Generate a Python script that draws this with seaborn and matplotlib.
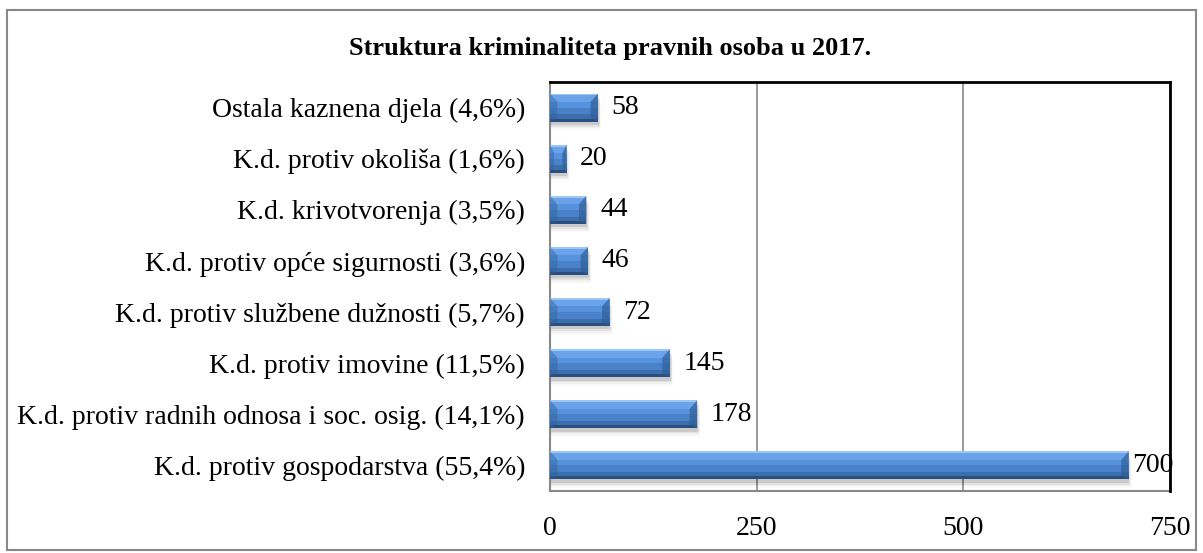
import matplotlib
matplotlib.use("Agg")
import matplotlib.pyplot as plt
import seaborn as sns
import pandas as pd
import numpy as np
from matplotlib.patches import Rectangle, Polygon

categories = [
    "Ostala kaznena djela (4,6%)",
    "K.d. protiv okoliša (1,6%)",
    "K.d. krivotvorenja (3,5%)",
    "K.d. protiv opće sigurnosti (3,6%)",
    "K.d. protiv službene dužnosti (5,7%)",
    "K.d. protiv imovine (11,5%)",
    "K.d. protiv radnih odnosa i soc. osig. (14,1%)",
    "K.d. protiv gospodarstva (55,4%)",
]
values = [58, 20, 44, 46, 72, 145, 178, 700]
xticks = [0, 250, 500, 750]
title = "Struktura kriminaliteta pravnih osoba u 2017."

sns.set_theme(style="white")
plt.rcParams["font.family"] = ["Liberation Serif", "DejaVu Serif"]
plt.rcParams["text.color"] = "black"
plt.rcParams["xtick.color"] = "black"
plt.rcParams["ytick.color"] = "black"

df = pd.DataFrame({"cat": categories, "val": values})

fig = plt.figure(figsize=(12.03, 5.53), dpi=100)
ax = fig.add_axes([550 / 1203, 1 - 491 / 553, 620 / 1203, (491 - 82) / 553])

sns.barplot(data=df, y="cat", x="val", orient="h", color="#4d88d2",
            saturation=1, width=0.55, ax=ax, zorder=3)

ax.set_xlim(0, 750)
ax.set_ylim(len(categories) - 0.5, -0.5)

# bevel / shading effect derived from each bar
bands = [(0.00, 0.07, "#9cc6f4"), (0.07, 0.30, "#6aa3ea"), (0.30, 0.50, "#5792dd"),
         (0.50, 0.74, "#4a82c9"), (0.74, 0.89, "#3c6dac"), (0.89, 1.00, "#2a4e80")]
for p in list(ax.patches):
    x0, y0 = p.get_x(), p.get_y()
    w, h = p.get_width(), p.get_height()
    p.set_edgecolor("none")
    # soft shadow below
    for k, a in enumerate([0.10, 0.06, 0.035, 0.02]):
        ax.add_patch(Rectangle((x0, y0 + h * (0.12 + 0.06 * k)), w + 1.0 * (k + 1), h,
                               facecolor="#000000", alpha=a, zorder=2, linewidth=0))
    for f0, f1, c in bands:
        ax.add_patch(Rectangle((x0, y0 + h * f0), w, h * (f1 - f0), facecolor=c,
                               zorder=4, linewidth=0))
    # bevelled end caps
    cap = min(w * 0.25, 750 * 0.012)
    ax.add_patch(Polygon([(x0 + w, y0), (x0 + w - cap, y0 + h * 0.3),
                          (x0 + w - cap, y0 + h * 0.86), (x0 + w, y0 + h)],
                         closed=True, facecolor="#2f5f99", alpha=0.7, zorder=5, linewidth=0))
    ax.add_patch(Polygon([(x0, y0), (x0 + cap, y0 + h * 0.3),
                          (x0 + cap, y0 + h * 0.86), (x0, y0 + h)],
                         closed=True, facecolor="#2f5f99", alpha=0.45, zorder=5, linewidth=0))
    gap = 750 * 0.022 if x0 + w < 650 else 750 * 0.006
    ax.text(x0 + w + gap, y0 + h / 2, f"{w:.0f}", va="center", ha="left",
            fontsize=20, color="black", zorder=6)

ax.set_xticks(xticks)
ax.set_xticklabels([str(t) for t in xticks], fontsize=20)
ax.set_yticks(range(len(categories)))
ax.set_yticklabels(categories, fontsize=20)
ax.set_yticks(np.arange(-0.5, len(categories), 1.0), minor=True)
ax.tick_params(axis="y", which="major", length=0, pad=18)
ax.tick_params(axis="y", which="minor", length=7, width=1.2, color="#888888", direction="out")
ax.tick_params(axis="x", which="major", length=7, width=1.2, color="#888888", direction="out", pad=11)
ax.set_xlabel("")
ax.set_ylabel("")

ax.xaxis.grid(True, color="#8a8a8a", linewidth=1.2, zorder=0)
ax.set_axisbelow(True)
ax.spines["left"].set_color("#888888")
ax.spines["bottom"].set_color("#888888")
ax.spines["left"].set_linewidth(1.5)
ax.spines["bottom"].set_linewidth(1.5)
ax.spines["top"].set_color("black")
ax.spines["right"].set_color("black")
ax.spines["top"].set_linewidth(2)
ax.spines["right"].set_linewidth(2)
ax.spines["right"].set_zorder(7)

fig.text(610 / 1203, 1 - 48 / 553, title, ha="center", va="center",
         fontsize=19, fontweight="bold")

fig.patches.append(Rectangle((7 / 1203, 1 - 550 / 553), (1196 - 7) / 1203, (550 - 10) / 553,
                             transform=fig.transFigure, fill=False,
                             edgecolor="#888888", linewidth=1.5))

fig.savefig("out.png", dpi=100)
